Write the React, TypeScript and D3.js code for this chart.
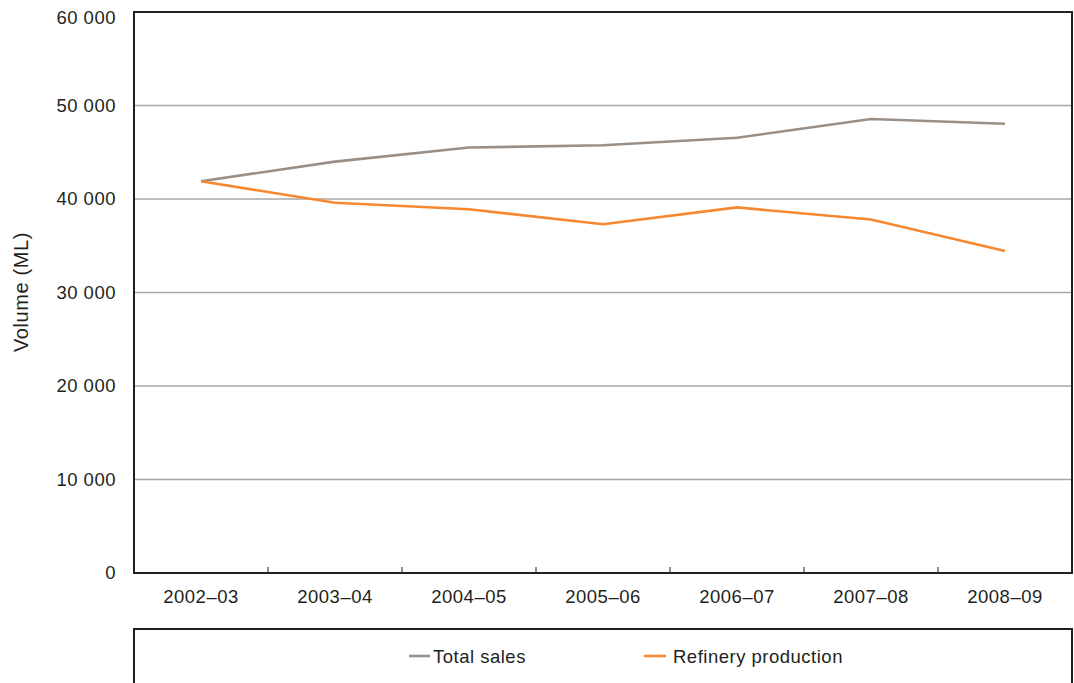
import React from "react";
import * as d3 from "d3";

const categories = ["2002–03", "2003–04", "2004–05", "2005–06", "2006–07", "2007–08", "2008–09"];
const totalSales = [41900, 44000, 45500, 45750, 46550, 48550, 48050];
const refineryProduction = [41900, 39600, 38900, 37300, 39100, 37800, 34450];
const yTicks = [0, 10000, 20000, 30000, 40000, 50000, 60000];
const seriesNames = ["Total sales", "Refinery production"];
const seriesColors = ["#9a8f87", "#f7882f"];

const W = 1074, H = 683;
const left = 134, right = 1072, top = 12, bottom = 573;
const ink = "#231f20";
const font = "'Liberation Sans', Arial, sans-serif";
const fs = 18.5;
const ls = 0.5;

export default function App() {
  const x = d3.scaleBand().domain(categories).range([left, right]).padding(0);
  const y = d3.scaleLinear().domain([0, 60000]).range([bottom, top]);
  const fmt = (v: number) => d3.format(",")(v).replace(/,/g, " ");
  const line = d3.line<number>()
    .x((_, i) => (x(categories[i]) as number) + x.bandwidth() / 2)
    .y((d) => y(d));
  const series = [totalSales, refineryProduction];
  const boundaries = categories.slice(1).map((c) => x(c) as number);

  return (
    <svg width={W} height={H} style={{ position: "absolute", left: 0, top: 0 }} fontFamily={font}>
      <rect x={0} y={0} width={W} height={H} fill="#fff" />
      {yTicks.filter((t) => t > 0 && t < 60000).map((t) => (
        <line key={t} x1={left} x2={right} y1={y(t)} y2={y(t)} stroke="#a6a6a6" strokeWidth={1.3} />
      ))}
      {yTicks.map((t) => (
        <text key={t} x={116} y={Math.max(y(t), top + 6)} dy="0.35em" textAnchor="end" fontSize={fs} letterSpacing={ls} fill={ink}>{fmt(t)}</text>
      ))}
      {boundaries.map((bx, i) => (
        <line key={i} x1={bx} x2={bx} y1={bottom} y2={bottom - 6} stroke={ink} strokeWidth={1} />
      ))}
      {categories.map((c) => (
        <text key={c} x={(x(c) as number) + x.bandwidth() / 2} y={597} dy="0.35em" textAnchor="middle" fontSize={fs} letterSpacing={ls} fill={ink}>{c}</text>
      ))}
      {series.map((s, i) => (
        <path key={i} d={line(s) as string} fill="none" stroke={seriesColors[i]} strokeWidth={2.6} />
      ))}
      <rect x={left} y={top} width={right - left} height={bottom - top} fill="none" stroke={ink} strokeWidth={2} />
      <text transform={`translate(27.5,292) rotate(-90)`} textAnchor="middle" fontSize={20} letterSpacing={0.6} fill={ink}>Volume (ML)</text>
      <path d={`M${left},${H + 5} V629 H${right} V${H + 5}`} fill="none" stroke={ink} strokeWidth={2} />
      <line x1={409} x2={430} y1={656} y2={656} stroke={seriesColors[0]} strokeWidth={2.6} />
      <text x={433} y={657} dy="0.35em" fontSize={fs} letterSpacing={ls} fill={ink}>{seriesNames[0]}</text>
      <line x1={644} x2={666} y1={656} y2={656} stroke={seriesColors[1]} strokeWidth={2.6} />
      <text x={673} y={657} dy="0.35em" fontSize={fs} letterSpacing={ls} fill={ink}>{seriesNames[1]}</text>
    </svg>
  );
}
